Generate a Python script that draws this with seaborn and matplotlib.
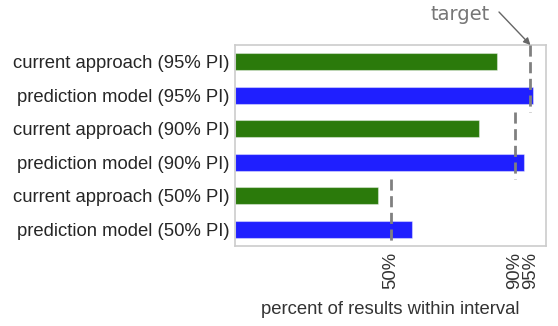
import matplotlib
matplotlib.use("Agg")
import matplotlib.pyplot as plt
import seaborn as sns
import pandas as pd

labels = [
    "current approach (95% PI)",
    "prediction model (95% PI)",
    "current approach (90% PI)",
    "prediction model (90% PI)",
    "current approach (50% PI)",
    "prediction model (50% PI)",
]
values = [84.2, 95.9, 78.5, 92.8, 46.1, 57.0]
targets = [95, 90, 50]
target_labels = ["95%", "90%", "50%"]
colors = ["#2b7a0b", "#1f1fff"] * 3

sns.set_theme(style="white")
plt.rcParams["font.family"] = ["Liberation Sans", "DejaVu Sans"]

df = pd.DataFrame({"label": labels, "value": values})

fig = plt.figure(figsize=(5.58, 3.26), dpi=100)
ax = fig.add_axes([235 / 558, 1 - 246 / 326, (546 - 235) / 558, (246 - 45) / 326])

sns.barplot(data=df, x="value", y="label", hue="label", palette=colors,
            orient="h", width=0.5, saturation=1, legend=False, ax=ax)
for p in ax.patches:
    p.set_edgecolor((1, 1, 1, 0.4))
    p.set_linewidth(0.8)

# dashed target lines, each covering its pair of rows
for i, t in enumerate(targets):
    ax.vlines(t, 2 * i - 0.5, 2 * i + 1.5, colors="#808080", linestyles=(0, (4, 2)),
              linewidth=2.0, zorder=5)

fs = 13.3
ax.set_xlim(0, 100)
ax.set_ylim(5.5, -0.5)
ax.set_xticks(targets)
ax.set_xticklabels(target_labels, rotation=90, fontsize=fs, color="#333333")
ax.tick_params(axis="y", labelsize=fs, labelcolor="#262626", length=0, pad=4)
ax.tick_params(axis="x", length=0, pad=4)
ax.set_ylabel("")
ax.set_xlabel("percent of results within interval", fontsize=fs, color="#333333",
              labelpad=9)
for s in ax.spines.values():
    s.set_color("#cccccc")
    s.set_linewidth(1.2)

fig.text(460 / 558, 1 - 14 / 326, "target", ha="center", va="center",
         fontsize=14, color="#777777", family="DejaVu Sans")
ax.annotate("", xy=(targets[0], -0.5), xycoords="data",
            xytext=(499 / 558, 1 - 12 / 326), textcoords="figure fraction",
            arrowprops=dict(arrowstyle="-|>", color="#666666", lw=1.0,
                            shrinkA=0, shrinkB=0, mutation_scale=10))

fig.savefig("out.png", dpi=100)
